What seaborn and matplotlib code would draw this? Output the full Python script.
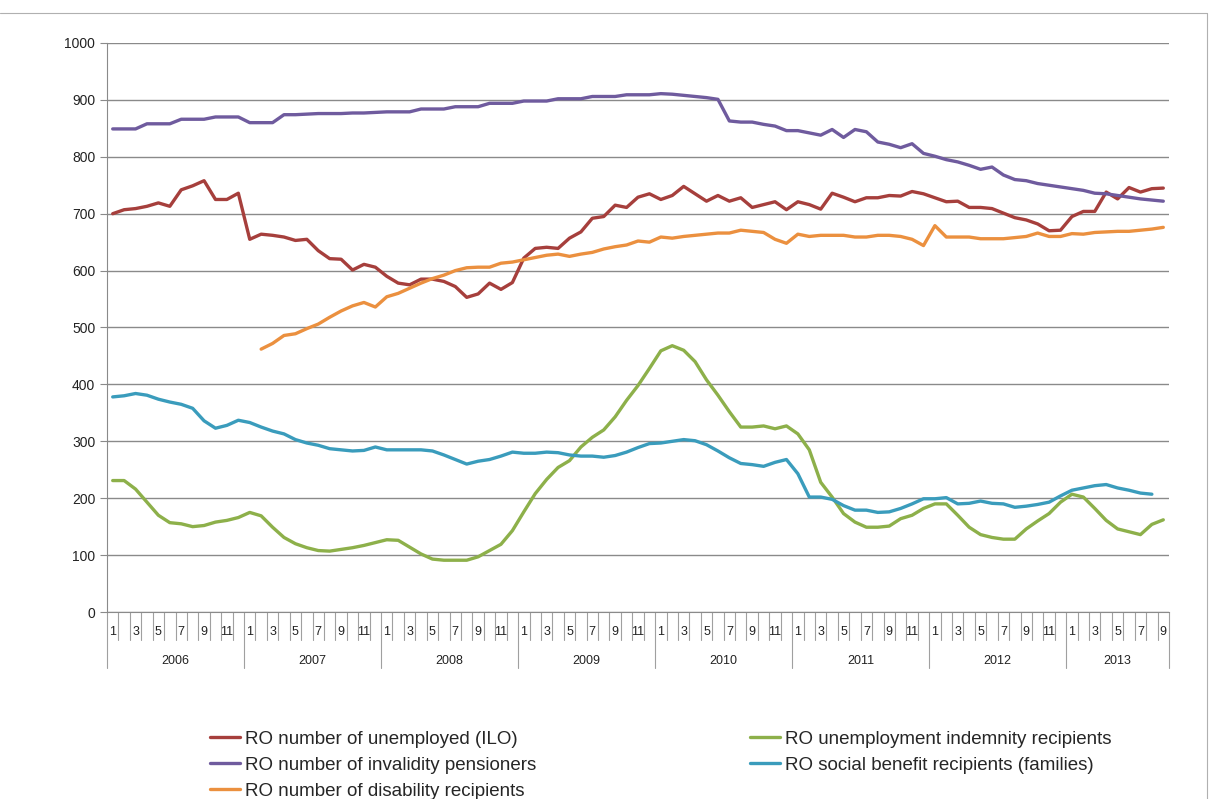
import numpy as np
import pandas as pd
import seaborn as sns
import matplotlib.pyplot as plt
from matplotlib.lines import Line2D

# Monthly data, Jan 2006 - Sep 2013 (thousands)
years = [2006, 2007, 2008, 2009, 2010, 2011, 2012, 2013]
months_last_year = 9

unemployed = [700, 707, 709, 713, 719, 713, 742, 749, 758, 725, 725, 736,
              655, 664, 662, 659, 653, 655, 635, 621, 620, 601, 611, 606,
              590, 578, 575, 585, 585, 581, 572, 553, 559, 578, 567, 579,
              622, 639, 641, 639, 657, 668, 692, 695, 715, 711, 729, 735,
              725, 732, 748, 735, 722, 732, 722, 728, 711, 716, 721, 707,
              721, 716, 708, 736, 729, 721, 728, 728, 732, 731, 739, 735,
              728, 721, 722, 711, 711, 709, 701, 693, 689, 682, 670, 671,
              695, 704, 704, 738, 726, 746, 738, 744, 745]

invalidity = [849, 849, 849, 858, 858, 858, 866, 866, 866, 870, 870, 870,
              860, 860, 860, 874, 874, 875, 876, 876, 876, 877, 877, 878,
              879, 879, 879, 884, 884, 884, 888, 888, 888, 894, 894, 894,
              898, 898, 898, 902, 902, 902, 906, 906, 906, 909, 909, 909,
              911, 910, 908, 906, 904, 901, 863, 861, 861, 857, 854, 846,
              846, 842, 838, 848, 834, 848, 844, 826, 822, 816, 823, 806,
              801, 795, 791, 785, 778, 782, 768, 760, 758, 753, 750, 747,
              744, 741, 736, 735, 732, 729, 726, 724, 722]

disability = [None] * 13 + [
              462, 472, 486, 489, 498, 506, 518, 529, 538, 544, 536,
              554, 560, 569, 578, 586, 592, 600, 605, 606, 606, 613, 615,
              619, 623, 627, 629, 625, 629, 632, 638, 642, 645, 652, 650,
              659, 657, 660, 662, 664, 666, 666, 671, 669, 667, 655, 648,
              664, 660, 662, 662, 662, 659, 659, 662, 662, 660, 655, 644,
              679, 659, 659, 659, 656, 656, 656, 658, 660, 666, 660, 660,
              665, 664, 667, 668, 669, 669, 671, 673, 676]

indemnity = [231, 231, 216, 193, 170, 157, 155, 150, 152, 158, 161, 166,
             175, 169, 149, 131, 120, 113, 108, 107, 110, 113, 117, 122,
             127, 126, 114, 102, 93, 91, 91, 91, 97, 108, 119, 143,
             176, 208, 233, 254, 266, 290, 307, 320, 343, 372, 398, 428,
             459, 468, 460, 440, 408, 381, 352, 325, 325, 327, 322, 327,
             313, 285, 228, 202, 173, 158, 149, 149, 151, 164, 170, 182,
             190, 190, 170, 149, 136, 131, 128, 128, 146, 160, 173, 193,
             207, 202, 182, 161, 146, 141, 136, 154, 162]

social = [378, 380, 384, 381, 374, 369, 365, 358, 336, 323, 328, 337,
          333, 325, 318, 313, 303, 297, 293, 287, 285, 283, 284, 290,
          285, 285, 285, 285, 283, 276, 268, 260, 265, 268, 274, 281,
          279, 279, 281, 280, 276, 274, 274, 272, 275, 281, 289, 296,
          297, 300, 303, 301, 294, 283, 271, 261, 259, 256, 263, 268,
          243, 202, 202, 198, 187, 179, 179, 175, 176, 182, 190, 199,
          199, 201, 190, 191, 195, 191, 190, 184, 186, 189, 193, 204,
          214, 218, 222, 224, 218, 214, 209, 207, None]

labels = ['RO number of unemployed (ILO)',
          'RO number of invalidity pensioners',
          'RO number of disability recipients',
          'RO unemployment indemnity recipients',
          'RO social benefit recipients (families)']
colors = ['#A63F3C', '#6F5B9E', '#EB903F', '#8DB04A', '#3A9CBC']

n = 12 * (len(years) - 1) + months_last_year
month_no = [(i % 12) + 1 for i in range(n)]

df = pd.DataFrame({'t': np.arange(n),
                   labels[0]: unemployed, labels[1]: invalidity,
                   labels[2]: disability, labels[3]: indemnity,
                   labels[4]: social})
long = df.melt(id_vars='t', var_name='series', value_name='value').dropna()
long['value'] = long['value'].astype(float)

sns.set_style('white')
plt.rcParams['font.family'] = ['Liberation Sans', 'DejaVu Sans']

fig = plt.figure(figsize=(12.09, 7.99), dpi=100)
ax = fig.add_axes([107 / 1209, 1 - 612 / 799, 1062 / 1209, 569 / 799])

sns.lineplot(data=long, x='t', y='value', hue='series', hue_order=labels,
             palette=dict(zip(labels, colors)), linewidth=2.4, ax=ax,
             legend=False)

grid_c = '#8a8a8a'
ax.set_xlim(-0.5, n - 0.5)
ax.set_ylim(0, 1000)
ax.set_yticks(range(0, 1001, 100))
ax.tick_params(axis='y', labelsize=10, colors=grid_c, labelcolor='#222222',
               length=5, width=0.8, direction='out', left=True)
ax.yaxis.grid(True, color=grid_c, linewidth=1.0)
ax.set_axisbelow(True)
ax.set_xticks([])
ax.set_xlabel('')
ax.set_ylabel('')
for s in ['top', 'right']:
    ax.spines[s].set_visible(False)
ax.spines['left'].set_color(grid_c)
ax.spines['bottom'].set_color(grid_c)

# two-level category axis: month ticks + year separators
trans = ax.get_xaxis_transform()
px = 1 / 569
for k in range(n + 1):
    x = k - 0.5
    low = -56 * px if (k % 12 == 0 or k == n) else -28 * px
    ax.plot([x, x], [0, low], transform=trans, color='#a0a0a0', lw=0.8,
            clip_on=False)
for i, m in enumerate(month_no):
    if m % 2 == 1:
        ax.text(i, -20 * px, str(m), transform=trans, ha='center',
                va='center', fontsize=9, color='#222222')
for j, y in enumerate(years):
    start = 12 * j
    end = min(12 * (j + 1), n)
    ax.text((start + end - 1) / 2, -49 * px, str(y), transform=trans,
            ha='center', va='center', fontsize=9, color='#222222')

# legend in two columns
handles = [Line2D([], [], color=c, lw=2.4) for c in colors]
leg_kw = dict(frameon=False, handlelength=1.6, handletextpad=0.27,
              labelspacing=0.46, loc='upper left',
              prop={'family': ['Liberation Sans', 'DejaVu Sans'],
                    'size': 13.5})
leg1 = fig.legend(handles[:3], labels[:3],
                  bbox_to_anchor=(193 / 1209, 1 - 714 / 799), **leg_kw)
leg2 = fig.legend(handles[3:], labels[3:],
                  bbox_to_anchor=(733 / 1209, 1 - 714 / 799), **leg_kw)

# chart border
fig.add_artist(Line2D([0, 1207 / 1209], [1 - 13 / 799] * 2,
                      transform=fig.transFigure, color='#b0b0b0', lw=0.8))
fig.add_artist(Line2D([1207 / 1209] * 2, [1 - 13 / 799, 0],
                      transform=fig.transFigure, color='#b0b0b0', lw=0.8))

fig.savefig('out.png', dpi=100)
